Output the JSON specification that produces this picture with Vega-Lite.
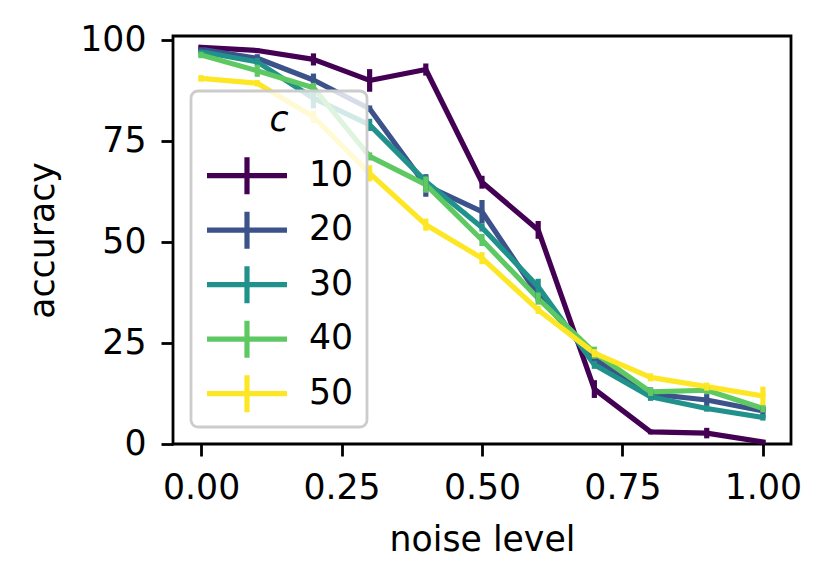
{
  "$schema": "https://vega.github.io/schema/vega-lite/v6.json",
  "width": 618,
  "height": 408,
  "autosize": {"type": "none"},
  "padding": {"left": 173, "top": 36, "right": 40, "bottom": 140},
  "background": "white",
  "config": {
    "font": "DejaVu Sans",
    "view": {"stroke": "black", "strokeWidth": 2.8},
    "axis": {
      "domain": false,
      "grid": false,
      "tickColor": "black",
      "tickSize": 12,
      "tickWidth": 2.8,
      "labelColor": "black",
      "labelFontSize": 34.7,
      "labelFont": "DejaVu Sans",
      "labelPadding": 15,
      "titleColor": "black",
      "titleFontSize": 34.7,
      "titleFont": "DejaVu Sans",
      "titleFontWeight": "normal"
    }
  },
  "datasets": {
    "acc": [
      {"noise": 0.0, "acc": 98.2, "err": 0.5, "c": 10},
      {"noise": 0.1, "acc": 97.4, "err": 0.5, "c": 10},
      {"noise": 0.2, "acc": 95.2, "err": 1.5, "c": 10},
      {"noise": 0.3, "acc": 90.0, "err": 2.8, "c": 10},
      {"noise": 0.4, "acc": 92.7, "err": 1.5, "c": 10},
      {"noise": 0.5, "acc": 64.8, "err": 1.6, "c": 10},
      {"noise": 0.6, "acc": 53.0, "err": 2.2, "c": 10},
      {"noise": 0.7, "acc": 13.6, "err": 2.2, "c": 10},
      {"noise": 0.8, "acc": 3.0, "err": 0.6, "c": 10},
      {"noise": 0.9, "acc": 2.7, "err": 1.3, "c": 10},
      {"noise": 1.0, "acc": 0.5, "err": 0.3, "c": 10},
      {"noise": 0.0, "acc": 97.7, "err": 0.5, "c": 20},
      {"noise": 0.1, "acc": 95.5, "err": 1.0, "c": 20},
      {"noise": 0.2, "acc": 90.1, "err": 1.6, "c": 20},
      {"noise": 0.3, "acc": 83.0, "err": 0.8, "c": 20},
      {"noise": 0.4, "acc": 64.0, "err": 2.8, "c": 20},
      {"noise": 0.5, "acc": 57.5, "err": 2.9, "c": 20},
      {"noise": 0.6, "acc": 36.8, "err": 1.5, "c": 20},
      {"noise": 0.7, "acc": 21.0, "err": 1.0, "c": 20},
      {"noise": 0.8, "acc": 12.4, "err": 1.6, "c": 20},
      {"noise": 0.9, "acc": 10.9, "err": 1.5, "c": 20},
      {"noise": 1.0, "acc": 8.2, "err": 1.0, "c": 20},
      {"noise": 0.0, "acc": 97.1, "err": 0.5, "c": 30},
      {"noise": 0.1, "acc": 94.6, "err": 1.0, "c": 30},
      {"noise": 0.2, "acc": 85.6, "err": 2.5, "c": 30},
      {"noise": 0.3, "acc": 79.0, "err": 1.5, "c": 30},
      {"noise": 0.4, "acc": 65.0, "err": 1.5, "c": 30},
      {"noise": 0.5, "acc": 53.6, "err": 1.0, "c": 30},
      {"noise": 0.6, "acc": 38.9, "err": 2.0, "c": 30},
      {"noise": 0.7, "acc": 19.6, "err": 1.0, "c": 30},
      {"noise": 0.8, "acc": 11.7, "err": 1.0, "c": 30},
      {"noise": 0.9, "acc": 8.8, "err": 0.8, "c": 30},
      {"noise": 1.0, "acc": 6.6, "err": 0.8, "c": 30},
      {"noise": 0.0, "acc": 96.3, "err": 0.8, "c": 40},
      {"noise": 0.1, "acc": 92.4, "err": 1.5, "c": 40},
      {"noise": 0.2, "acc": 88.2, "err": 1.2, "c": 40},
      {"noise": 0.3, "acc": 71.2, "err": 1.0, "c": 40},
      {"noise": 0.4, "acc": 64.2, "err": 2.0, "c": 40},
      {"noise": 0.5, "acc": 50.5, "err": 1.5, "c": 40},
      {"noise": 0.6, "acc": 36.0, "err": 1.5, "c": 40},
      {"noise": 0.7, "acc": 22.6, "err": 1.5, "c": 40},
      {"noise": 0.8, "acc": 12.9, "err": 1.0, "c": 40},
      {"noise": 0.9, "acc": 13.3, "err": 1.0, "c": 40},
      {"noise": 1.0, "acc": 8.8, "err": 1.0, "c": 40},
      {"noise": 0.0, "acc": 90.5, "err": 0.8, "c": 50},
      {"noise": 0.1, "acc": 89.3, "err": 0.8, "c": 50},
      {"noise": 0.2, "acc": 81.0, "err": 1.5, "c": 50},
      {"noise": 0.3, "acc": 67.0, "err": 2.0, "c": 50},
      {"noise": 0.4, "acc": 54.3, "err": 1.5, "c": 50},
      {"noise": 0.5, "acc": 46.0, "err": 1.5, "c": 50},
      {"noise": 0.6, "acc": 33.2, "err": 1.0, "c": 50},
      {"noise": 0.7, "acc": 22.5, "err": 1.0, "c": 50},
      {"noise": 0.8, "acc": 16.5, "err": 1.0, "c": 50},
      {"noise": 0.9, "acc": 14.2, "err": 1.0, "c": 50},
      {"noise": 1.0, "acc": 11.9, "err": 2.3, "c": 50}
    ]
  },
  "data": {"name": "acc"},
  "encoding": {
    "x": {
      "field": "noise",
      "type": "quantitative",
      "scale": {"domain": [-0.05, 1.05], "nice": false, "zero": false},
      "axis": {
        "values": [0, 0.25, 0.5, 0.75, 1],
        "format": ".2f",
        "title": "noise level",
        "titleBaseline": "alphabetic",
        "titleX": 309,
        "titleY": 106,
        "titleAlign": "center"
      }
    },
    "y": {
      "field": "acc",
      "type": "quantitative",
      "title": "accuracy",
      "scale": {"domain": [0, 101], "nice": false},
      "axis": {
        "values": [0, 25, 50, 75, 100],
        "title": "accuracy",
        "titleAngle": -90,
        "titleBaseline": "alphabetic",
        "titleAlign": "center",
        "titleX": -119.5,
        "titleY": 204
      }
    },
    "color": {
      "field": "c",
      "type": "nominal",
      "scale": {
        "domain": [10, 20, 30, 40, 50],
        "range": ["#440154", "#3b528b", "#21918c", "#5ec962", "#fde725"]
      },
      "legend": {
        "title": "c",
        "orient": "none",
        "legendX": 18,
        "legendY": 55,
        "titleFontStyle": "italic",
        "titleFontWeight": "normal",
        "titleFontSize": 34.7,
        "titleFont": "DejaVu Sans",
        "titleColor": "black",
        "titleAnchor": "middle",
        "titlePadding": 17,
        "labelFontSize": 34.7,
        "labelFont": "DejaVu Sans",
        "labelColor": "black",
        "labelOffset": 19,
        "symbolType": "M-1,0H1M0,-0.4625V0.4625",
        "symbolSize": 6400,
        "symbolStrokeWidth": 5.2,
        "clipHeight": 40,
        "rowPadding": 14.5,
        "padding": 13,
        "fillColor": "rgba(255,255,255,0.8)",
        "strokeColor": "#cccccc",
        "cornerRadius": 7,
        "encode": {"legend": {"update": {"strokeWidth": {"value": 2.8}}}}
      }
    }
  },
  "layer": [
    {
      "mark": {"type": "line", "strokeWidth": 5.2, "strokeJoin": "round", "strokeCap": "square"}
    },
    {
      "mark": {"type": "errorbar", "thickness": 5.2},
      "encoding": {
        "yError": {"field": "err"}
      }
    }
  ]
}
